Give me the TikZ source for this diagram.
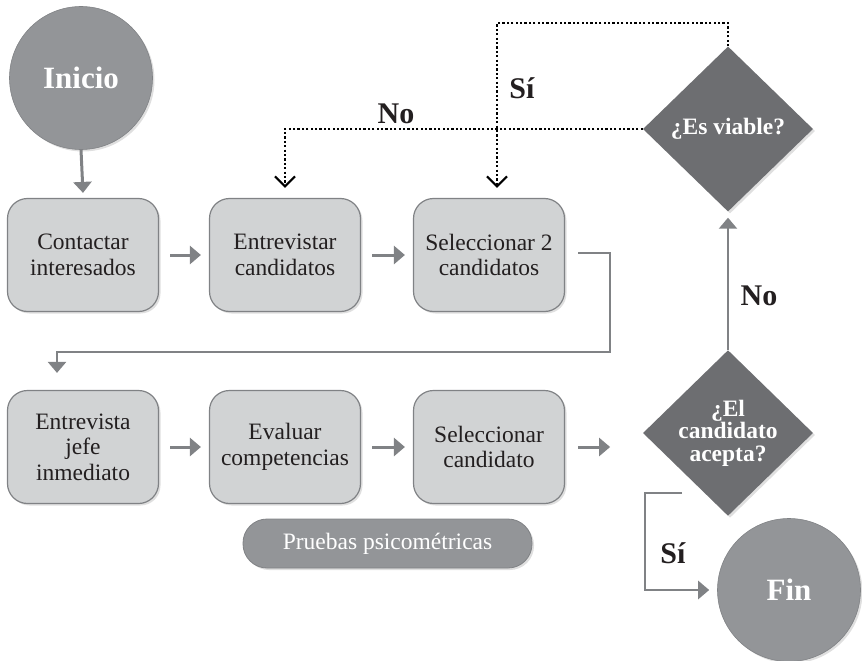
\documentclass[tikz,border=0pt]{standalone}
\usepackage{fontspec}
\setmainfont{Liberation Serif}
\usetikzlibrary{arrows.meta,shapes.geometric,shadows,calc}
\definecolor{boxfill}{HTML}{D1D3D4}
\definecolor{boxline}{HTML}{808285}
\definecolor{circfill}{HTML}{939598}
\definecolor{diafill}{HTML}{6D6E71}
\definecolor{txt}{HTML}{231F20}
\begin{document}
\begin{tikzpicture}[x=1pt,y=-1pt,
 shad/.style={drop shadow={shadow xshift=2pt,shadow yshift=-2pt,opacity=0.25}},
 stepbox/.style={draw=boxline,line width=1.2pt,fill=boxfill,rounded corners=20pt,minimum width=151pt,minimum height=113pt,align=center,text=txt,font=\fontsize{23.5}{25.5}\selectfont,inner sep=0pt,shad},
 endcirc/.style={circle,fill=circfill,draw=boxline,line width=0.6pt,minimum size=143pt,inner sep=0pt,text=white,font=\bfseries\fontsize{31}{33}\selectfont,shad},
 decision/.style={diamond,fill=diafill,minimum width=170pt,minimum height=165pt,inner sep=0pt,text=white,align=center,font=\bfseries\fontsize{23.5}{22.5}\selectfont,shad},
 pill/.style={fill=circfill,draw=boxline,line width=0.8pt,rounded corners=24pt,minimum width=289pt,minimum height=49pt,inner sep=0pt,text=white,font=\fontsize{23.5}{25}\selectfont,shad},
 tip/.style={-{Triangle[length=11pt,width=18pt]}},
 garrow/.style={draw=boxline,line width=3pt,tip},
 gline/.style={draw=boxline,line width=2.5pt,tip},
 dotline/.style={line width=2.2pt,dash pattern=on 2.2pt off 2.2pt,-{Straight Barb[length=10pt,width=20pt,line width=2.2pt]}},
 lbl/.style={font=\bfseries\fontsize{30}{32}\selectfont,text=txt,inner sep=0pt}
]
\useasboundingbox (0,0) rectangle (862,661);

\node[endcirc] (inicio) at (81,78) {Inicio};
\node[stepbox] (contact) at (83,255) {Contactar\\interesados};
\node[stepbox] (entrev) at (285,255) {Entrevistar\\candidatos};
\node[stepbox] (sel2) at (489,255) {Seleccionar 2\\candidatos};
\node[stepbox] (jefe) at (83,447) {Entrevista\\jefe\\inmediato};
\node[stepbox] (eval) at (285,447) {Evaluar\\competencias};
\node[stepbox] (selc) at (489,447) {Seleccionar\\candidato};
\node[decision] (viable) at (728,129) {¿Es viable?};
\node[decision] (acepta) at (728,433) {¿El\\candidato\\acepta?};
\node[endcirc] (fin) at (789,590) {Fin};
\node[pill] (pruebas) at (387.5,543.5) {Pruebas psicométricas};

\node[lbl] (no1) at (396,114) {No};
\node[lbl] (si1) at (522,88) {Sí};
\node[lbl] (no2) at (759,296) {No};
\node[lbl] (si2) at (673,553) {Sí};

\draw[garrow] (inicio.south) -- ([yshift=5pt]contact.north);
\draw[garrow] ([xshift=11pt]contact.east) -- ([xshift=-8pt]entrev.west);
\draw[garrow] ([xshift=11pt]entrev.east) -- ([xshift=-8pt]sel2.west);
\draw[garrow] ([xshift=11pt]jefe.east) -- ([xshift=-8pt]eval.west);
\draw[garrow] ([xshift=11pt]eval.east) -- ([xshift=-8pt]selc.west);
\draw[garrow] ([xshift=13pt]selc.east) -- ([xshift=45pt]selc.east);

\coordinate (c1) at (610,352);
\draw[gline] ([xshift=13pt,yshift=2pt]sel2.east) -| (c1) -| ([xshift=-26pt,yshift=17pt]jefe.north);

\draw[draw=boxline,line width=2.2pt,tip] (acepta.north) -- ([yshift=-6pt]viable.south);

\coordinate (s1) at (682,493);
\coordinate (s2) at (645,590);
\draw[gline] (s1) -| (s2) -- ([xshift=-8pt]fin.west);

\draw[dotline] (viable.west) -| ([yshift=10pt]entrev.north);
\draw[dotline] (viable.north) -- ++(0,-23) -| ([xshift=8pt,yshift=10pt]sel2.north);
\end{tikzpicture}
\end{document}
